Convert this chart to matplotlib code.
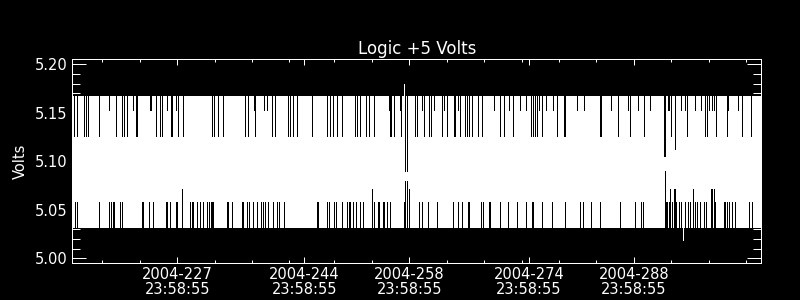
import numpy as np
import matplotlib
matplotlib.use('Agg')
import matplotlib.pyplot as plt

# x is day-of-year 2004 (fractional days), y is volts
t_start, t_end = 214.0, 306.0
v_max, v_min = 5.167, 5.031     # usual top / bottom reading of the trace

# days where the top reading only reached 5.126 V
top_long_val = 5.126
dip_long = [214.23, 214.56, 215.50, 215.83, 216.16, 217.61, 219.88, 220.60, 220.91, 221.27,
            222.51, 222.69, 225.19, 225.72, 225.92, 227.12, 227.30, 228.06, 228.83,
            232.67, 232.94, 233.47, 234.07, 237.08, 237.48, 238.42, 240.65, 241.02, 242.83,
            243.09, 243.49, 244.03, 246.03, 248.04, 248.44, 248.84, 249.31, 249.98,
            251.71, 252.05, 252.41, 253.16, 253.61, 254.32, 256.39, 256.55, 256.95, 257.89,
            259.73, 260.07, 261.00, 261.60, 261.90, 263.34, 264.07, 264.94, 265.08, 265.81,
            266.44, 266.75, 266.92, 267.38, 268.12, 268.66, 271.06, 271.60, 272.86, 275.30,
            275.53, 275.74, 276.06, 276.77, 278.74, 279.62, 279.84, 284.43, 284.66, 286.89,
            288.49, 290.31, 293.97, 296.11, 298.55, 298.73, 299.98, 301.40, 303.41, 304.66]
# days where the top reading only reached 5.153 V
top_short_val = 5.153
dip_short = [218.84, 222.07, 224.32, 224.45, 226.62, 227.86, 238.28, 239.66, 239.98,
             256.26, 257.75, 260.73, 262.27, 263.61, 265.54, 270.26, 272.32, 273.74, 274.54,
             276.33, 277.31, 278.20, 281.41, 282.29, 285.99, 288.26, 289.60, 291.20, 293.54,
             293.74, 295.31, 295.84, 297.18, 297.98, 299.09, 299.40, 299.66, 301.63, 302.87]
# days where the bottom reading stayed at 5.058 V
bot_low_val = 5.058
rise_low = [214.36, 214.67, 217.61, 218.94, 219.13, 219.48, 219.61, 220.37, 220.58, 223.25,
            223.45, 224.21, 224.82, 226.46, 226.66, 227.06, 227.79, 227.95, 229.73, 229.96,
            230.17, 230.62, 231.07, 231.51, 231.96, 232.31, 232.47, 232.60, 232.76, 234.63,
            234.85, 235.30, 236.64, 236.77, 237.31, 237.65, 238.08, 238.64, 239.18, 239.53,
            239.75, 240.19, 240.78, 241.32, 241.66, 242.29, 246.64, 246.88, 248.00, 248.31,
            248.91, 249.24, 250.00, 250.67, 250.91, 251.05, 251.47, 251.91, 252.36, 252.89,
            254.32, 254.79, 254.92, 255.48, 255.66, 256.06, 256.42, 258.24, 260.37, 260.69,
            261.44, 262.70, 264.84, 265.45, 266.04, 266.84, 266.97, 268.62, 268.82, 269.59,
            269.73, 271.06, 272.13, 273.39, 274.57, 275.39, 275.57, 276.73, 278.07, 279.84,
            281.85, 282.21, 283.28, 284.43, 287.10, 289.20, 289.96, 290.17, 293.27, 293.44,
            293.65, 294.10, 294.68, 294.99, 295.31, 295.88, 296.19, 296.55, 297.22, 297.45,
            297.89, 298.33, 298.69, 299.89, 301.00, 301.23, 301.45, 301.67, 302.12, 302.56,
            304.34, 304.80]
# days where the bottom reading stayed at 5.071 V
bot_high_val = 5.071
rise_high = [228.70, 254.09, 258.96, 293.88, 294.32, 294.45, 296.91, 299.32, 299.49, 299.66]

# odd readings
deep_top_days = [258.50, 258.66, 292.98, 293.14, 294.50]
deep_top_vals = [5.090, 5.090, 5.105, 5.105, 5.113]
deep_bot_days = [258.50, 258.66, 293.11]
deep_bot_vals = [5.080, 5.080, 5.090]
spike_up_day, spike_up_val = 258.24, 5.180
spike_dn_day, spike_dn_val = 295.57, 5.019

tick_days = [227.999, 244.999, 258.999, 274.999, 288.999]
tick_labels = ['2004-227\n23:58:55', '2004-244\n23:58:55', '2004-258\n23:58:55',
               '2004-274\n23:58:55', '2004-288\n23:58:55']
minor_days = [218, 223, 233, 238, 243, 249, 254, 264, 269, 274, 279, 284, 294, 299, 304]
y_major = [5.00, 5.05, 5.10, 5.15, 5.20]

fig = plt.figure(figsize=(8, 3), dpi=100, facecolor='black')
ax = fig.add_axes([0.0904, 0.1223, 0.8610, 0.6800])
ax.set_facecolor('black')

lw = 0.72
ax.fill_between([t_start, t_end], v_min, v_max, color='white', lw=0, antialiased=False, zorder=1)
ax.vlines(dip_long, top_long_val, v_max, colors='black', lw=lw, antialiased=False, zorder=2)
ax.vlines(dip_short, top_short_val, v_max, colors='black', lw=lw, antialiased=False, zorder=2)
ax.vlines(rise_low, v_min, bot_low_val, colors='black', lw=lw, antialiased=False, zorder=2)
ax.vlines(rise_high, v_min, bot_high_val, colors='black', lw=lw, antialiased=False, zorder=2)
ax.vlines(deep_top_days, deep_top_vals, v_max, colors='black', lw=lw, antialiased=False, zorder=2)
ax.vlines(deep_bot_days, v_min, deep_bot_vals, colors='black', lw=lw, antialiased=False, zorder=2)
ax.vlines([spike_up_day], v_max, spike_up_val, colors='white', lw=lw, antialiased=False, zorder=2)
ax.vlines([spike_dn_day], spike_dn_val, v_min, colors='white', lw=lw, antialiased=False, zorder=2)

ax.set_xlim(t_start, t_end)
ax.set_ylim(4.995, 5.205)

ax.set_xticks(tick_days)
ax.set_xticklabels(tick_labels, linespacing=1.0)
ax.set_xticks(minor_days, minor=True)
ax.set_yticks(y_major)
ax.set_yticklabels(['%.2f' % v for v in y_major])
ax.set_yticks(np.arange(5.00, 5.2001, 0.01), minor=True)

ax.tick_params(axis='both', which='both', direction='in', colors='white', width=lw,
               labelsize=10.5, top=True, right=True)
ax.tick_params(axis='x', which='major', length=4.3, pad=3)
ax.tick_params(axis='x', which='minor', length=2.5)
ax.tick_params(axis='y', which='major', length=10.4, pad=3.5)
ax.tick_params(axis='y', which='minor', length=5.5)

for s in ax.spines.values():
    s.set_color('white')
    s.set_linewidth(lw)

ax.set_title('Logic +5 Volts', color='white', fontsize=12, pad=4)
ax.set_ylabel('Volts', color='white', fontsize=10.5)
ax.yaxis.set_label_coords(-0.0643, 0.5)

fig.savefig('out.png', dpi=100, facecolor='black')
